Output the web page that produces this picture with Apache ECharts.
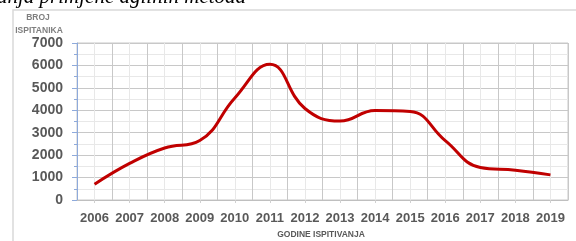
<!DOCTYPE html>
<html>
<head>
<meta charset="utf-8">
<script src="https://cdn.jsdelivr.net/npm/echarts@6/dist/echarts.min.js"></script>
<style>
  html, body { margin: 0; padding: 0; background: #fff; }
  #chart { width: 576px; height: 241px; }
</style>
</head>
<body>
<div id="chart"></div>
<script>
// godine i broj ispitanika
const years = ['2006', '2007', '2008', '2009', '2010', '2011', '2012',
    '2013', '2014', '2015', '2016', '2017', '2018', '2019'];
const respondents = [700, 1630, 2320, 2650, 4550, 6050, 4080,
    3520, 3990, 3950, 2650, 1450, 1330, 1120];
const yTicks = [0, 1000, 2000, 3000, 4000, 5000, 6000, 7000];

const chart = echarts.init(document.getElementById('chart'));

const option = {
    animation: false,
    grid: {
        left: 77, right: 8, top: 43, bottom: 41,
        show: true,
        borderColor: '#c9c9c9',
        borderWidth: 1
    },
    graphic: [
        {
            type: 'rect',
            shape: { x: 13, y: 10, width: 570, height: 240 },
            style: { fill: 'none', stroke: '#d9d9d9', lineWidth: 1.5 }
        },
        {
            type: 'text', left: -3, top: -13,
            style: {
                text: 'anja primjene agilnih metoda',
                font: 'italic 21px "Liberation Serif"',
                fill: '#000'
            }
        },
        {
            type: 'text', x: 38, y: 13,
            style: {
                text: 'BROJ', align: 'center',
                font: 'bold 8.5px "Liberation Sans"', fill: '#7f7f7f'
            }
        },
        {
            type: 'text', x: 39, y: 26,
            style: {
                text: 'ISPITANIKA', align: 'center',
                font: 'bold 8.5px "Liberation Sans"', fill: '#7f7f7f'
            }
        },
        {
            type: 'text', x: 321, y: 230,
            style: {
                text: 'GODINE ISPITIVANJA', align: 'center',
                font: 'bold 8.5px "Liberation Sans"', fill: '#595959'
            }
        }
    ],
    xAxis: [
        {
            type: 'category',
            data: years,
            boundaryGap: true,
            axisLine: { lineStyle: { color: '#bfbfbf', width: 1 } },
            axisTick: { show: false },
            axisLabel: {
                interval: 0,
                margin: 12,
                fontFamily: 'Liberation Sans',
                fontWeight: 'bold',
                fontSize: 13,
                color: '#595959'
            },
            splitLine: { show: false }
        },
        {
            // pomocna os za mrezu (granice i sredine kategorija)
            type: 'value',
            min: 0, max: years.length, interval: 1,
            show: true,
            position: 'bottom',
            axisLine: { show: false },
            axisTick: { show: false },
            axisLabel: { show: false },
            splitLine: { show: true, lineStyle: { color: '#c8c8c8', width: 1 } },
            minorTick: { show: true, splitNumber: 2, length: 3, lineStyle: { color: '#d0d0d0' } },
            minorSplitLine: { show: true, lineStyle: { color: '#e8e8e8', width: 1 } }
        }
    ],
    yAxis: {
        type: 'value',
        min: yTicks[0],
        max: yTicks[yTicks.length - 1],
        interval: 1000,
        axisLine: { show: true, lineStyle: { color: '#8eaadb', width: 1 } },
        axisTick: { show: true, length: 5, lineStyle: { color: '#8eaadb' } },
        minorTick: { show: true, splitNumber: 2, length: 3, lineStyle: { color: '#8eaadb' } },
        axisLabel: {
            margin: 14,
            fontFamily: 'Liberation Sans',
            fontWeight: 'bold',
            fontSize: 14,
            color: '#595959',
            formatter: v => String(v)
        },
        splitLine: { lineStyle: { color: '#c8c8c8', width: 1 } },
        minorSplitLine: { show: true, lineStyle: { color: '#e8e8e8', width: 1 } }
    },
    series: [{
        name: 'Broj ispitanika',
        type: 'line',
        data: respondents,
        smooth: 0.45,
        symbol: 'none',
        lineStyle: { color: '#c00000', width: 3 }
    }]
};

chart.setOption(option);
</script>
</body>
</html>
